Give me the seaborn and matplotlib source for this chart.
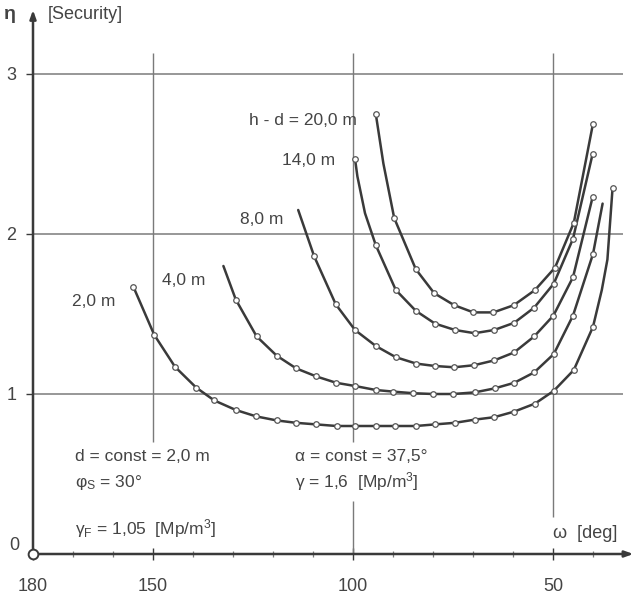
import numpy as np
import pandas as pd
import matplotlib
matplotlib.use("Agg")
import matplotlib.pyplot as plt
import seaborn as sns

# ---------------- data ----------------
curve_labels = ["2,0 m", "4,0 m", "8,0 m", "14,0 m", "h - d = 20,0 m"]

omega_2 = [154.9, 149.7, 144.5, 139.2, 134.7, 129.3, 124.2, 119.1, 114.3, 109.2, 104.1,
           99.5, 94.3, 89.5, 84.3, 79.5, 74.5, 69.5, 64.7, 59.7, 54.5, 49.8, 44.8, 40.0,
           37.8, 36.4, 35.1]
eta_2 = [1.67, 1.37, 1.17, 1.04, 0.96, 0.90, 0.86, 0.835, 0.82, 0.81, 0.80,
         0.80, 0.80, 0.80, 0.80, 0.81, 0.82, 0.84, 0.855, 0.89, 0.94, 1.02, 1.15, 1.42,
         1.65, 1.84, 2.29]
mark_2 = [1] * 24 + [0, 0, 1]

omega_4 = [132.4, 129.3, 124.1, 119.1, 114.2, 109.2, 104.2, 99.5, 94.3, 90.0, 85.0,
           80.0, 75.0, 69.6, 64.6, 59.7, 54.7, 49.8, 45.0, 40.0, 37.6]
eta_4 = [1.80, 1.59, 1.36, 1.24, 1.16, 1.11, 1.07, 1.05, 1.025, 1.015, 1.005,
         1.00, 1.00, 1.01, 1.035, 1.07, 1.135, 1.25, 1.49, 1.875, 2.19]
mark_4 = [0] + [1] * 19 + [0]

omega_8 = [113.7, 109.7, 104.3, 99.5, 94.3, 89.3, 84.2, 79.5, 74.7, 69.7, 64.7,
           59.7, 54.7, 49.9, 45.0, 40.1]
eta_8 = [2.15, 1.86, 1.56, 1.40, 1.30, 1.23, 1.19, 1.175, 1.167, 1.18, 1.21,
         1.26, 1.36, 1.49, 1.73, 2.23]
mark_8 = [0] + [1] * 15

omega_14 = [99.5, 98.9, 97.0, 94.3, 89.3, 84.3, 79.5, 74.5, 69.6, 64.7, 59.7, 54.7, 49.8,
            45.0, 40.1]
eta_14 = [2.47, 2.36, 2.13, 1.93, 1.65, 1.52, 1.44, 1.40, 1.38, 1.40, 1.445, 1.54, 1.69,
          1.97, 2.50]
mark_14 = [1, 0, 0] + [1] * 12

omega_20 = [94.3, 92.4, 89.7, 84.3, 79.7, 74.7, 69.9, 64.9, 59.8, 54.5, 49.5, 44.8, 40.0]
eta_20 = [2.75, 2.44, 2.10, 1.78, 1.63, 1.555, 1.51, 1.51, 1.555, 1.65, 1.79, 2.07, 2.69]
mark_20 = [1, 0] + [1] * 11

x_ticks = [180, 150, 100, 50]
x_tick_labels = ["180", "150", "100", "50"]
x_minor = [170, 160, 140, 130, 120, 110, 90, 80, 70, 60, 40]
y_ticks = [1, 2, 3]
y_tick_labels = ["1", "2", "3"]

# ---------------- build table ----------------
rows = []
for lab, om, et, mk in zip(curve_labels,
                           [omega_2, omega_4, omega_8, omega_14, omega_20],
                           [eta_2, eta_4, eta_8, eta_14, eta_20],
                           [mark_2, mark_4, mark_8, mark_14, mark_20]):
    for i, (o, e, m) in enumerate(zip(om, et, mk)):
        rows.append({"curve": lab, "order": i, "omega": o, "eta": e, "mark": bool(m)})
df = pd.DataFrame(rows)

# ---------------- style ----------------
sns.set_style("white")
plt.rcParams["font.family"] = ["Liberation Sans", "DejaVu Sans"]
plt.rcParams["mathtext.fontset"] = "custom"
plt.rcParams["mathtext.rm"] = "Liberation Sans"
plt.rcParams["mathtext.it"] = "Liberation Sans"
plt.rcParams["mathtext.sf"] = "Liberation Sans"

INK = "#3a3a3a"
GRID = "#7a7a7a"
TXT = "#444444"

fig = plt.figure(figsize=(6.34, 5.98), dpi=100)
fig.patch.set_facecolor("white")
ax = fig.add_axes([33 / 634, 44 / 598, 601 / 634, 554 / 598])
ax.set_xlim(180, 29.75)
ax.set_ylim(0, 3.4625)
for s in ax.spines.values():
    s.set_visible(False)

# grid (partial lines as in the drawing)
ax.hlines(y_ticks, 180, 32.5, color=GRID, lw=1.1, zorder=1)
ax.vlines([150, 100, 100, 50], [0.70, 0.70, 0.0, 0.23], [3.13, 3.13, 0.33, 3.13],
          color=GRID, lw=1.0, zorder=1)

# curves
sns.lineplot(data=df, x="omega", y="eta", hue="curve",
             estimator=None, sort=False, palette=[INK] * 5, legend=False,
             lw=1.8, ax=ax, zorder=2)
sns.scatterplot(data=df[df["mark"]], x="omega", y="eta", marker="o", s=16,
                facecolor="white", edgecolor="#555555", linewidth=0.9,
                legend=False, ax=ax, zorder=3)

# axes lines with arrows
ax.annotate("", xy=(180, 3.40), xytext=(180, 0), xycoords="data",
            arrowprops=dict(arrowstyle="-|>,head_length=0.5,head_width=0.18",
                            color=INK, lw=1.8, shrinkA=0, shrinkB=0), annotation_clip=False)
ax.annotate("", xy=(29.9, 0), xytext=(180, 0), xycoords="data",
            arrowprops=dict(arrowstyle="-|>,head_length=0.5,head_width=0.18",
                            color=INK, lw=1.8, shrinkA=0, shrinkB=0), annotation_clip=False)
ax.plot([180], [0], marker="o", ms=7, mfc="white", mec=INK, mew=1.4, clip_on=False, zorder=5)

# ticks
ax.set_xticks(x_ticks, labels=x_tick_labels)
ax.set_xticks(x_minor, minor=True)
ax.tick_params(axis="x", which="major", direction="inout", length=9, width=1.0,
               color=INK, labelsize=13, labelcolor=TXT, pad=13, bottom=True)
ax.tick_params(axis="x", which="minor", direction="inout", length=5, width=0.9,
               color=GRID, bottom=True)
ax.set_yticks(y_ticks, labels=y_tick_labels)
ax.tick_params(axis="y", which="major", direction="out", length=5, width=1.0,
               color=INK, labelsize=13, labelcolor=TXT, pad=7, left=True)
ax.set_xlabel("")
ax.set_ylabel("")
ax.text(183.3, 0.056, "0", fontsize=13, color=TXT, ha="right", va="center")

# axis titles
ax.text(185.8, 3.37, "η", fontsize=14, color=TXT, ha="center", va="center", fontweight="bold")
ax.text(176.3, 3.37, "[Security]", fontsize=13, color=TXT, ha="left", va="center")
ax.text(50.0, 0.125, "ω  [deg]", fontsize=13, color=TXT, ha="left", va="center")

# curve labels
ax.text(99.1, 2.71, curve_labels[4], fontsize=12.5, color=TXT, ha="right", va="center")
ax.text(104.4, 2.46, curve_labels[3], fontsize=12.5, color=TXT, ha="right", va="center")
ax.text(117.5, 2.09, curve_labels[2], fontsize=12.5, color=TXT, ha="right", va="center")
ax.text(147.8, 1.71, curve_labels[1], fontsize=12.5, color=TXT, ha="left", va="center")
ax.text(170.3, 1.58, curve_labels[0], fontsize=12.5, color=TXT, ha="left", va="center")

# parameter notes
ax.text(169.5, 0.61, "d = const = 2,0 m", fontsize=12.5, color=TXT, ha="left", va="center")
ax.text(169.5, 0.45, "φ$_\\mathrm{S}$ = 30°", fontsize=12.5, color=TXT, ha="left", va="center")
ax.text(169.5, 0.16, "γ$_\\mathrm{F}$ = 1,05  [Mp/m$^\\mathrm{3}$]", fontsize=12.5, color=TXT,
        ha="left", va="center")
ax.text(114.5, 0.61, "α = const = 37,5°", fontsize=12.5, color=TXT, ha="left", va="center")
ax.text(114.5, 0.45, "γ = 1,6  [Mp/m$^\\mathrm{3}$]", fontsize=12.5, color=TXT, ha="left", va="center")

fig.savefig("out.png", dpi=100, facecolor="white")
